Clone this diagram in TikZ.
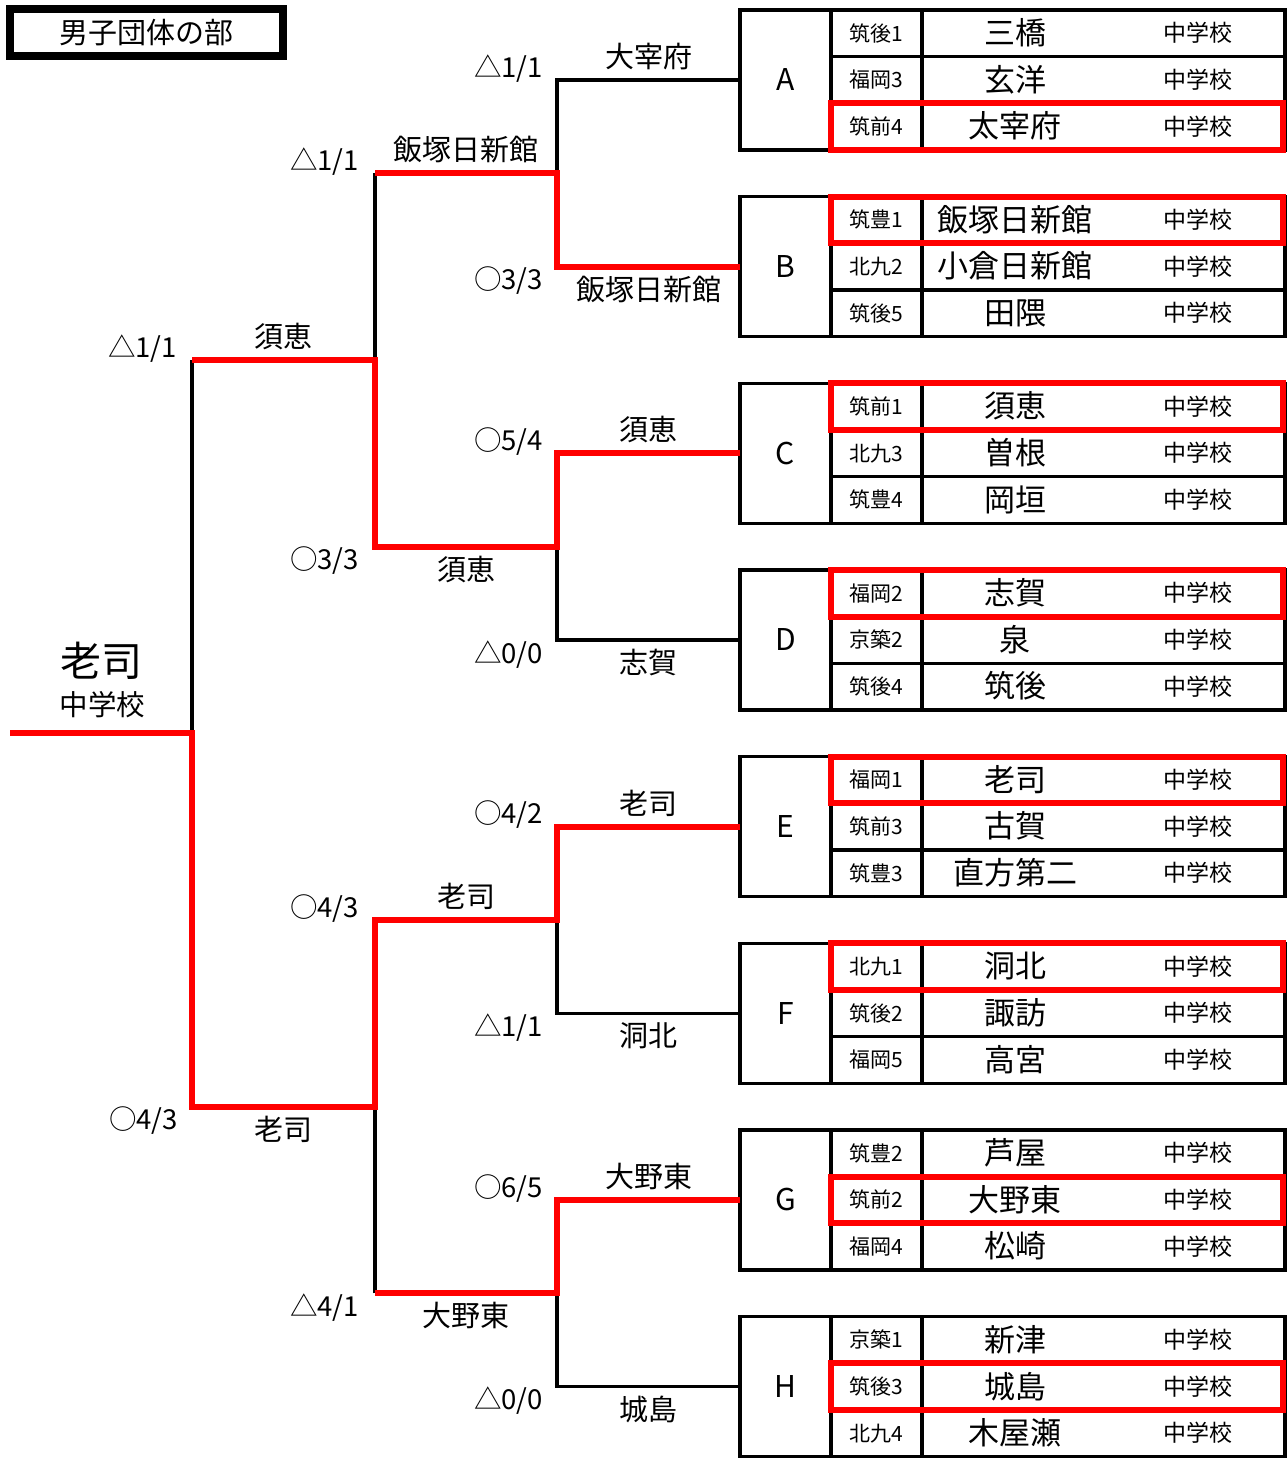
\documentclass[tikz,border=0pt]{standalone}
\usepackage{fontspec}
\setmainfont{Noto Sans CJK JP}
\definecolor{hl}{RGB}{255,0,0}
\newcommand\grp[9]{%
  \node[lettercell] (#1) at (785.5,{#2+70}) {#1};
  \foreach \i/\rg/\nm in {1/#3/#4,2/#5/#6,3/#7/#8}{%
    \node[regcell] (#1r\i) at (876.5,{#2+46.667*\i-23.333}) {\rg};
    \node[schcell] (#1s\i) at (1103.5,{#2+46.667*\i-23.333}) {};
    \node[schname] (#1n\i) at (1015,{#2+46.667*\i-23.333}) {\nm};
    \node[chu] (#1c\i) at (1198,{#2+46.667*\i-23.333}) {中学校};
  }
  \draw[redbox] (#1r#9.north west) rectangle ([xshift=-2pt]#1s#9.south east);
}
\begin{document}
\begin{tikzpicture}[x=1pt,y=-1pt,
  txt/.style={inner sep=0pt,outer sep=0pt},
  cell/.style={txt,draw,line width=3.5pt},
  lettercell/.style={cell,minimum width=91pt,minimum height=140pt,font=\fontsize{30}{34}\selectfont,text height=25.5pt,text depth=3.6pt},
  regcell/.style={cell,minimum width=91pt,minimum height=46.667pt,font=\fontsize{21}{24}\selectfont,text height=17.85pt,text depth=2.52pt},
  schcell/.style={cell,minimum width=363pt,minimum height=46.667pt},
  schname/.style={txt,font=\fontsize{31}{35}\selectfont,text height=26.35pt,text depth=3.72pt},
  chu/.style={txt,font=\fontsize{23}{26}\selectfont,text height=19.55pt,text depth=2.76pt},
  redbox/.style={line width=6pt,draw=hl},
  bline/.style={line width=3.5pt,black},
  rline/.style={line width=6pt,hl},
  nm/.style={txt,font=\fontsize{29}{33}\selectfont,text height=24.65pt,text depth=3.48pt},
  sc/.style={txt,anchor=east,font=\fontsize{27.5}{31}\selectfont,text height=23.4pt,text depth=3.3pt},
  titlebox/.style={draw,line width=8pt,minimum width=273pt,minimum height=47pt,inner sep=0pt,font=\fontsize{29}{33}\selectfont,text height=24.65pt,text depth=3.48pt}
]
\useasboundingbox (0,0) rectangle (1287,1459);

% title
\node[titlebox] (title) at (146.5,32.5) {男子団体の部};

% groups
\grp{A}{10}{筑後1}{三橋}{福岡3}{玄洋}{筑前4}{太宰府}{3}
\grp{B}{196.667}{筑豊1}{飯塚日新館}{北九2}{小倉日新館}{筑後5}{田隈}{1}
\grp{C}{383.333}{筑前1}{須恵}{北九3}{曽根}{筑豊4}{岡垣}{1}
\grp{D}{570}{福岡2}{志賀}{京築2}{泉}{筑後4}{筑後}{1}
\grp{E}{756.667}{福岡1}{老司}{筑前3}{古賀}{筑豊3}{直方第二}{1}
\grp{F}{943.333}{北九1}{洞北}{筑後2}{諏訪}{福岡5}{高宮}{1}
\grp{G}{1130}{筑豊2}{芦屋}{筑前2}{大野東}{福岡4}{松崎}{2}
\grp{H}{1316.667}{京築1}{新津}{筑後3}{城島}{北九4}{木屋瀬}{2}

% bracket junctions
\coordinate (m1) at (557,173.333);
\coordinate (m2) at (557,546.667);
\coordinate (m3) at (557,920);
\coordinate (m4) at (557,1293.333);
\coordinate (n1) at (375,360);
\coordinate (n2) at (375,1106.667);
\coordinate (f) at (192,733.333);
\coordinate (champ) at (10,733.333);

% black (losing) lines
\draw[bline] (A.west) -| (m1);
\draw[bline] (D.west) -| (m2);
\draw[bline] (F.west) -| (m3);
\draw[bline] (H.west) -| (m4);
\draw[bline] (m1 -| n1) -- (n1);
\draw[bline] (n1 -| f) -- (f);
\draw[bline] (m4 -| n2) -- (n2);

% red (winning) lines
\draw[rline] (B.west) -| (m1) -- (m1 -| n1);
\draw[rline] (C.west) -| (m2) -| (n1) -- (n1 -| f);
\draw[rline] (champ) -- (f) |- (n2) |- (m3) |- (E.west);
\draw[rline] (G.west) -| (m4) -- (m4 -| n2);

% champion
\node[txt,font=\fontsize{41}{46}\selectfont,text height=34.85pt,text depth=4.92pt] (champname) at (101,661.5) {老司};
\node[txt,font=\fontsize{28.5}{32}\selectfont,text height=24.2pt,text depth=3.42pt] (champsch) at (102.5,705) {中学校};

% winner names
\node[nm] (w1) at (648.5,57) {大宰府};
\node[nm] (w2) at (466,150.3) {飯塚日新館};
\node[nm] (w3) at (648.5,289.7) {飯塚日新館};
\node[nm] (w4) at (283.5,337) {須恵};
\node[nm] (w5) at (648.5,430.3) {須恵};
\node[nm] (w6) at (466,569.7) {須恵};
\node[nm] (w7) at (648.5,663) {志賀};
\node[nm] (w8) at (648.5,803.7) {老司};
\node[nm] (w9) at (466,897) {老司};
\node[nm] (w10) at (648.5,1036.3) {洞北};
\node[nm] (w11) at (283.5,1129.7) {老司};
\node[nm] (w12) at (648.5,1177) {大野東};
\node[nm] (w13) at (466,1316.3) {大野東};
\node[nm] (w14) at (648.5,1409.7) {城島};

% scores
\node[sc] (s1) at (543,67) {△1/1};
\node[sc] (s2) at (359,160.3) {△1/1};
\node[sc] (s3) at (543,279.7) {○3/3};
\node[sc] (s4) at (177,347) {△1/1};
\node[sc] (s5) at (543,440.3) {○5/4};
\node[sc] (s6) at (359,559.7) {○3/3};
\node[sc] (s7) at (543,653) {△0/0};
\node[sc] (s8) at (543,813.7) {○4/2};
\node[sc] (s9) at (359,907) {○4/3};
\node[sc] (s10) at (543,1026.3) {△1/1};
\node[sc] (s11) at (178,1119.7) {○4/3};
\node[sc] (s12) at (543,1187) {○6/5};
\node[sc] (s13) at (359,1306.3) {△4/1};
\node[sc] (s14) at (543,1399.7) {△0/0};
\end{tikzpicture}
\end{document}
